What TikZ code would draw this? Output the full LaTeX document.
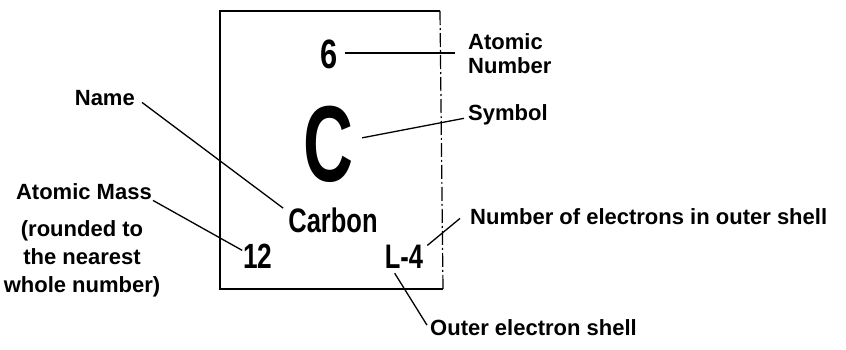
\documentclass[tikz,border=0pt]{standalone}
\usepackage{fontspec}
\setmainfont{Liberation Sans}
\newfontfamily\condfont{Liberation Sans}[FakeStretch=0.75]
\newfontfamily\symfont{Liberation Sans}[FakeStretch=0.64]
\usepackage{tikz}
\usetikzlibrary{calc}

\begin{document}
\begin{tikzpicture}[x=1pt,y=-1pt,
    lbl/.style={font=\bfseries\fontsize{22}{22}\selectfont,inner sep=0pt},
    entry/.style={inner sep=0pt,anchor=base},
    lead/.style={line width=1.3pt}]
  \useasboundingbox (0,0) rectangle (846,349);
  % the element box, dashed on its right side
  \draw[line width=1.3pt] (440,11) -- (220,11) -- (220,289) -- (443,289);
  \draw[line width=1.2pt,dash pattern=on 14pt off 3pt on 2pt off 3pt] (440,11) -- (443,289);
  % entries of the box
  \node[entry,font=\condfont\bfseries\fontsize{41}{41}\selectfont] (anum) at (329,68) {6};
  \node[entry,font=\symfont\bfseries\fontsize{108}{108}\selectfont] (symb) at (328,181) {C};
  \node[entry,font=\condfont\bfseries\fontsize{34}{34}\selectfont] (carbon) at (333,232) {Carbon};
  \node[entry,font=\condfont\bfseries\fontsize{35}{35}\selectfont] (mass) at (258,268) {12};
  \node[entry,font=\condfont\bfseries\fontsize{34}{34}\selectfont] (shell) at (404,268) {L-4};
  % labels
  \node[lbl,anchor=north west,align=left,font=\bfseries\fontsize{22}{24}\selectfont] (anlbl) at (468,33) {Atomic\\Number};
  \node[lbl,anchor=base west] (symlbl) at (468,120) {Symbol};
  \node[lbl,anchor=base east] (namelbl) at (135,105) {Name};
  \node[lbl,anchor=base east] (masslbl) at (152,199) {Atomic Mass};
  \node[lbl,anchor=north,align=center,font=\bfseries\fontsize{22}{28}\selectfont] (round) at (82,220) {(rounded to\\the nearest\\whole number)};
  \node[lbl,anchor=base west] (nelbl) at (470,224) {Number of electrons in outer shell};
  \node[lbl,anchor=base west] (oslbl) at (430,335) {Outer electron shell};
  % leaders
  \draw[lead] ($(anum.east)+(7,-1)$) -- ($(anum.east -| anlbl.west)+(-13,-1)$);
  \draw[lead] ($(symb.east)+(9,-6)$) -- ($(symlbl.west)+(-4,4)$);
  \draw[lead] ($(namelbl.south east)+(7,-3)$) -- ($(carbon.north west)+(-5,1)$);
  \draw[lead] ($(masslbl.south east)+(1,1)$) -- ($(mass.north west)+(-1,7)$);
  \draw[lead] ($(shell.north east)+(4,1)$) -- ($(nelbl.south west)+(-10,-6)$);
  \draw[lead] ($(shell.south west)+(10,5)$) -- ($(oslbl.west)+(-3,-2)$);
\end{tikzpicture}
\end{document}
